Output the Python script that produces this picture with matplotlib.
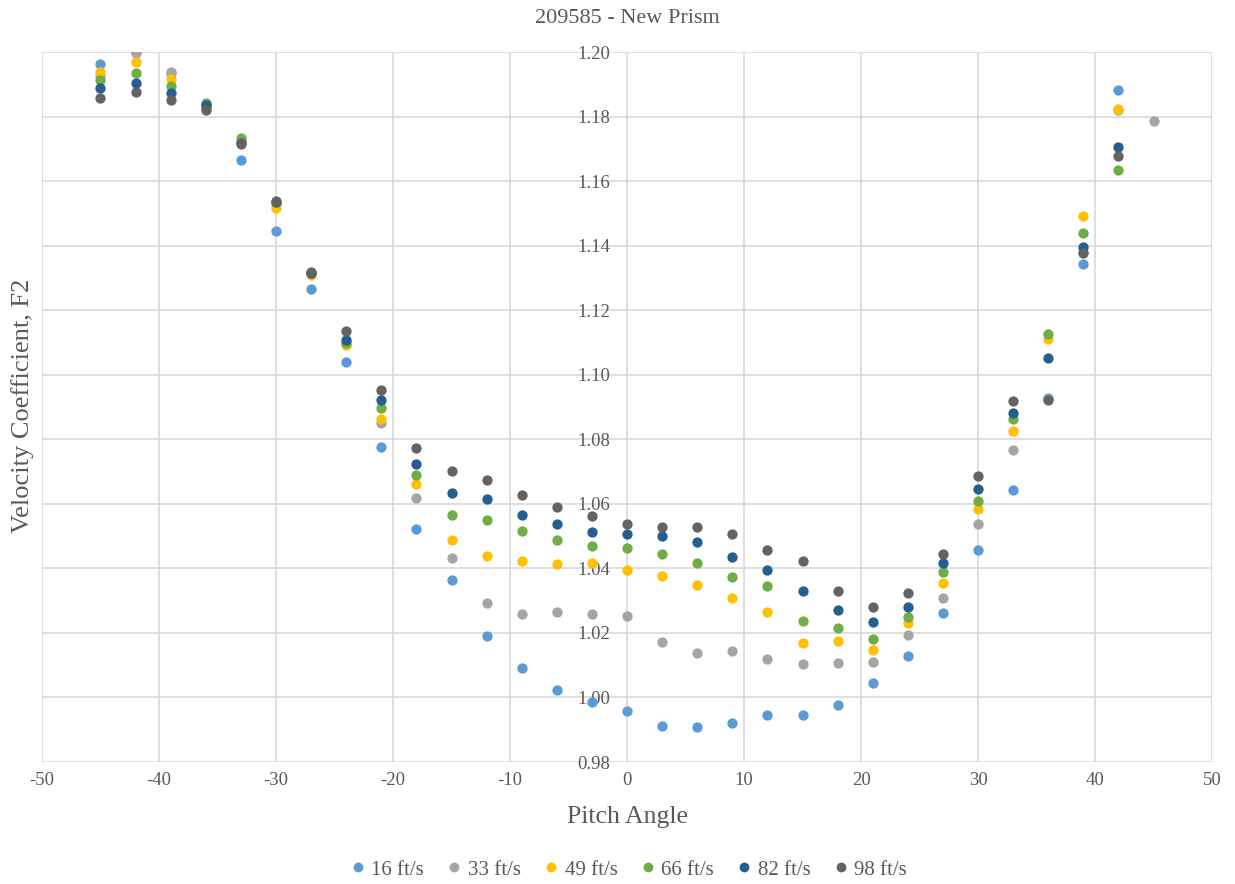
import matplotlib
matplotlib.use("Agg")
import matplotlib.pyplot as plt

# pitch angles (deg)
angles = [-45, -42, -39, -36, -33, -30, -27, -24, -21, -18, -15, -12, -9, -6, -3,
          0, 3, 6, 9, 12, 15, 18, 21, 24, 27, 30, 33, 36, 39, 42]
angles_33 = angles + [45]

# velocity coefficient F2 per speed
f2_16 = [1.1964, 1.2000, 1.1935, 1.1830, 1.1666, 1.1446, 1.1265, 1.1041, 1.0777, 1.0522,
         1.0363, 1.0190, 1.0090, 1.0023, 0.9986, 0.9957, 0.9913, 0.9909, 0.9921, 0.9945,
         0.9947, 0.9976, 1.0045, 1.0130, 1.0263, 1.0458, 1.0643, 1.0929, 1.1343, 1.1883]
f2_33 = [1.1925, 1.1996, 1.1937, 1.1828, 1.1722, 1.1530, 1.1315, 1.1095, 1.0850, 1.0618,
         1.0432, 1.0293, 1.0258, 1.0265, 1.0260, 1.0252, 1.0172, 1.0138, 1.0144, 1.0118,
         1.0103, 1.0107, 1.0111, 1.0193, 1.0307, 1.0539, 1.0766, 1.0925, 1.1380, 1.1822,
         1.1786]
f2_49 = [1.1939, 1.1971, 1.1916, 1.1835, 1.1725, 1.1517, 1.1310, 1.1091, 1.0863, 1.0661,
         1.0489, 1.0437, 1.0423, 1.0413, 1.0417, 1.0396, 1.0377, 1.0348, 1.0307, 1.0266,
         1.0169, 1.0175, 1.0147, 1.0230, 1.0354, 1.0583, 1.0825, 1.1112, 1.1492, 1.1823]
f2_66 = [1.1914, 1.1936, 1.1895, 1.1843, 1.1733, 1.1535, 1.1315, 1.1100, 1.0898, 1.0690,
         1.0566, 1.0551, 1.0516, 1.0488, 1.0469, 1.0463, 1.0446, 1.0417, 1.0374, 1.0346,
         1.0237, 1.0216, 1.0180, 1.0249, 1.0388, 1.0610, 1.0862, 1.1127, 1.1441, 1.1634]
f2_82 = [1.1890, 1.1903, 1.1873, 1.1836, 1.1718, 1.1535, 1.1315, 1.1107, 1.0922, 1.0725,
         1.0635, 1.0614, 1.0564, 1.0537, 1.0514, 1.0506, 1.0500, 1.0482, 1.0434, 1.0395,
         1.0330, 1.0270, 1.0233, 1.0281, 1.0418, 1.0646, 1.0883, 1.1052, 1.1396, 1.1707]
f2_98 = [1.1857, 1.1878, 1.1852, 1.1821, 1.1715, 1.1539, 1.1318, 1.1135, 1.0953, 1.0773,
         1.0703, 1.0675, 1.0628, 1.0591, 1.0562, 1.0539, 1.0529, 1.0529, 1.0506, 1.0457,
         1.0422, 1.0330, 1.0281, 1.0323, 1.0446, 1.0686, 1.0918, 1.0922, 1.1376, 1.1679]

x_ticks = list(range(-50, 51, 10))
y_ticks = [0.98 + 0.02 * i for i in range(12)]

series = [
    ("16 ft/s", angles, f2_16, "#5B9BD5"),
    ("33 ft/s", angles_33, f2_33, "#A5A5A5"),
    ("49 ft/s", angles, f2_49, "#FFC000"),
    ("66 ft/s", angles, f2_66, "#70AD47"),
    ("82 ft/s", angles, f2_82, "#255E91"),
    ("98 ft/s", angles, f2_98, "#636363"),
]

plt.rcParams['font.family'] = ['Liberation Serif', 'DejaVu Serif']
txt = '#595959'

fig = plt.figure(figsize=(12.35, 8.84), dpi=100)
ax = fig.add_axes([0.034, 0.138, 0.9474, 0.803])

for name, xs, ys, col in series:
    ax.scatter(xs, ys, s=55, color=col, label=name, linewidths=0, zorder=3)

ax.set_xlim(-50, 50)
ax.set_ylim(0.98, 1.20)
ax.set_xticks(x_ticks)
ax.set_xticklabels([str(v) for v in x_ticks])   # plain hyphen, like the original
ax.set_yticks(y_ticks)
ax.set_yticklabels([f"{v:.2f}" for v in y_ticks])

ax.grid(True, color='#D9D9D9', linewidth=1.2, zorder=0)
ax.set_axisbelow(True)
for sp in ax.spines.values():
    sp.set_visible(False)
# y tick labels sit next to the zero line
ax.spines['left'].set_position(('data', 0))

ax.tick_params(axis='y', length=0, pad=12, labelsize=13.5, labelcolor=txt)
ax.tick_params(axis='x', length=0, pad=7, labelsize=13.5, labelcolor=txt)

ax.set_title("209585 - New Prism", fontsize=16, color=txt, pad=21)
fig.text(0.018, 0.541, "Velocity Coefficient, F2", rotation=90, fontsize=19,
         color=txt, ha='center', va='center')
fig.text(0.508, 0.076, "Pitch Angle", fontsize=18.5, color=txt, ha='center', va='center')

leg = fig.legend(loc='center', bbox_to_anchor=(0.510, 0.016), ncol=6, frameon=False,
                 fontsize=15, handlelength=0.5, handletextpad=0.4, columnspacing=1.2,
                 markerscale=0.95, scatteryoffsets=[0.5])
for t in leg.get_texts():
    t.set_color(txt)

fig.savefig("out.png", dpi=100)
